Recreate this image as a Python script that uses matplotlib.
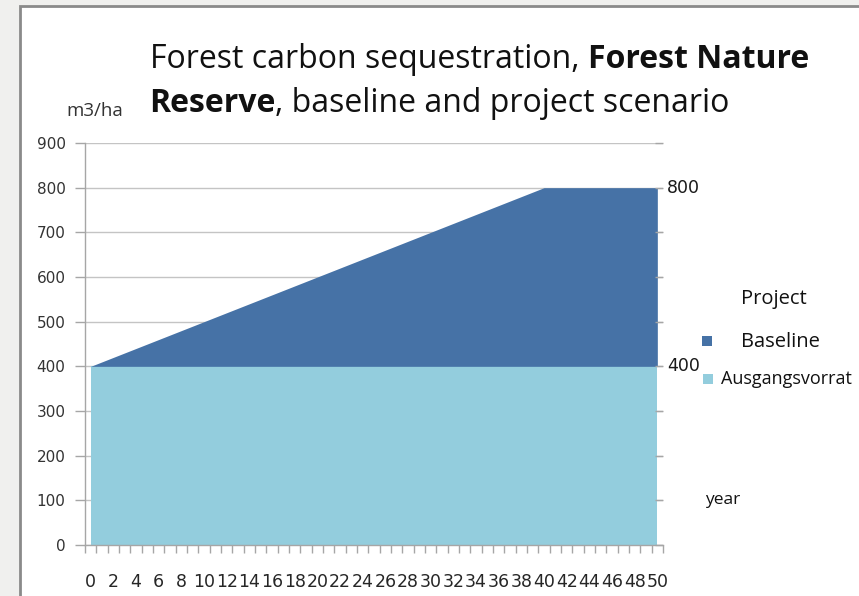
import matplotlib
matplotlib.use("Agg")
import matplotlib.pyplot as plt
from matplotlib.patches import Rectangle

# Stock development per year (m3/ha)
years = list(range(0, 51))
ausgangsvorrat = [400, 400, 400, 400, 400, 400, 400, 400, 400, 400,
                  400, 400, 400, 400, 400, 400, 400, 400, 400, 400,
                  400, 400, 400, 400, 400, 400, 400, 400, 400, 400,
                  400, 400, 400, 400, 400, 400, 400, 400, 400, 400,
                  400, 400, 400, 400, 400, 400, 400, 400, 400, 400,
                  400]
baseline = [0, 10, 20, 30, 40, 50, 60, 70, 80, 90,
            100, 110, 120, 130, 140, 150, 160, 170, 180, 190,
            200, 210, 220, 230, 240, 250, 260, 270, 280, 290,
            300, 310, 320, 330, 340, 350, 360, 370, 380, 390,
            400, 400, 400, 400, 400, 400, 400, 400, 400, 400,
            400]
y_ticks = [0, 100, 200, 300, 400, 500, 600, 700, 800, 900]
x_labels = [0, 2, 4, 6, 8, 10, 12, 14, 16, 18, 20, 22, 24, 26, 28, 30,
            32, 34, 36, 38, 40, 42, 44, 46, 48, 50]
marked_levels = [800, 400]
legend_labels = ["Project", "Baseline", "Ausgangsvorrat"]

DARK = "#4672a6"
LIGHT = "#93cddd"
GRID = "#c4c4c4"
AXIS = "#a6a6a6"
TEXT = "#262626"

W, H = 859, 596
fig = plt.figure(figsize=(W / 100, H / 100), dpi=100, facecolor="#f0f0ee")


def fx(px):
    return px / W


def fy(py):
    return 1 - py / H


# white chart panel
fig.patches.append(Rectangle((fx(20), -0.05), 1.1, fy(6) + 0.05,
                             transform=fig.transFigure, facecolor="white",
                             edgecolor="#8a8a8a", linewidth=2, zorder=-5))

ax = fig.add_axes([fx(85), fy(545), fx(663) - fx(85), fy(143) - fy(545)])
ax.set_facecolor("none")
ax.set_xlim(-0.5, 50.5)
ax.set_ylim(0, 900)

total = [a + b for a, b in zip(ausgangsvorrat, baseline)]
ax.fill_between(years, 0, ausgangsvorrat, color=LIGHT, linewidth=0, zorder=2)
ax.fill_between(years, ausgangsvorrat, total, color=DARK, linewidth=0, zorder=2)

ax.set_yticks(y_ticks)
ax.yaxis.grid(True, color=GRID, linewidth=1)
ax.set_axisbelow(True)
for s in ("top", "right"):
    ax.spines[s].set_visible(False)
for s in ("left", "bottom"):
    ax.spines[s].set_color(AXIS)
    ax.spines[s].set_linewidth(1)
    ax.spines[s].set_zorder(3)

ax.set_xticks(x_labels)
ax.set_xticklabels([str(v) for v in x_labels], fontsize=12.5, color=TEXT)
ax.set_xticks([v - 0.5 for v in years] + [50.5], minor=True)
ax.tick_params(axis="x", which="major", length=0, pad=20)
ax.tick_params(axis="x", which="minor", length=6, width=1, color=AXIS,
               direction="out")
ax.tick_params(axis="y", which="major", length=7, width=1, color=AXIS,
               direction="out", pad=7, labelsize=11, labelcolor="#333333")

# right-hand tick marks
axr = ax.twinx()
axr.set_ylim(0, 900)
axr.set_yticks(y_ticks)
axr.set_yticklabels([])
axr.tick_params(axis="y", length=6, width=1, color=AXIS, direction="in")
for s in axr.spines.values():
    s.set_visible(False)

for lvl in marked_levels:
    ax.annotate(str(lvl), xy=(50.5, lvl), xytext=(3, 0),
                textcoords="offset points", ha="left", va="center",
                fontsize=12.5, color="#1a1a1a")

# title with mixed weights
TF = ["Open Sans", "DejaVu Sans"]
tsize = 23
t1 = fig.text(fx(150), fy(76), "Forest carbon sequestration, ", family=TF,
              fontsize=tsize, color="#111111", va="bottom", ha="left")
ax.annotate("Forest Nature", xy=(1, 0), xycoords=t1, va="bottom", ha="left",
            family=TF, fontsize=tsize, fontweight="bold", color="#111111",
            annotation_clip=False)
t2 = fig.text(fx(149), fy(120), "Reserve", family=TF, fontsize=tsize,
              fontweight="bold", color="#111111", va="bottom", ha="left")
ax.annotate(", baseline and project scenario", xy=(1, 0), xycoords=t2,
            va="bottom", ha="left", family=TF, fontsize=tsize,
            color="#111111", annotation_clip=False)

fig.text(fx(66), fy(111), "m3/ha", family=TF, fontsize=13.5, color="#333333",
         va="center", ha="left")
fig.text(fx(705), fy(500), "year", family=TF, fontsize=12.5, color="#111111",
         va="center", ha="left")

# legend
LF = ["Open Sans", "DejaVu Sans"]
fig.text(fx(741), fy(299), legend_labels[0], family=LF, fontsize=14.5,
         color="#111111", va="center", ha="left")
fig.text(fx(741), fy(342), legend_labels[1], family=LF, fontsize=14.5,
         color="#111111", va="center", ha="left")
fig.patches.append(Rectangle((fx(702), fy(346)), fx(10), 10 / H,
                             transform=fig.transFigure, facecolor=DARK,
                             edgecolor="none"))
fig.text(fx(721), fy(379), legend_labels[2], family=LF, fontsize=13,
         color="#111111", va="center", ha="left")
fig.patches.append(Rectangle((fx(703), fy(384)), fx(10), 10 / H,
                             transform=fig.transFigure, facecolor=LIGHT,
                             edgecolor="none"))

fig.savefig("out.png", dpi=100, facecolor=fig.get_facecolor())
